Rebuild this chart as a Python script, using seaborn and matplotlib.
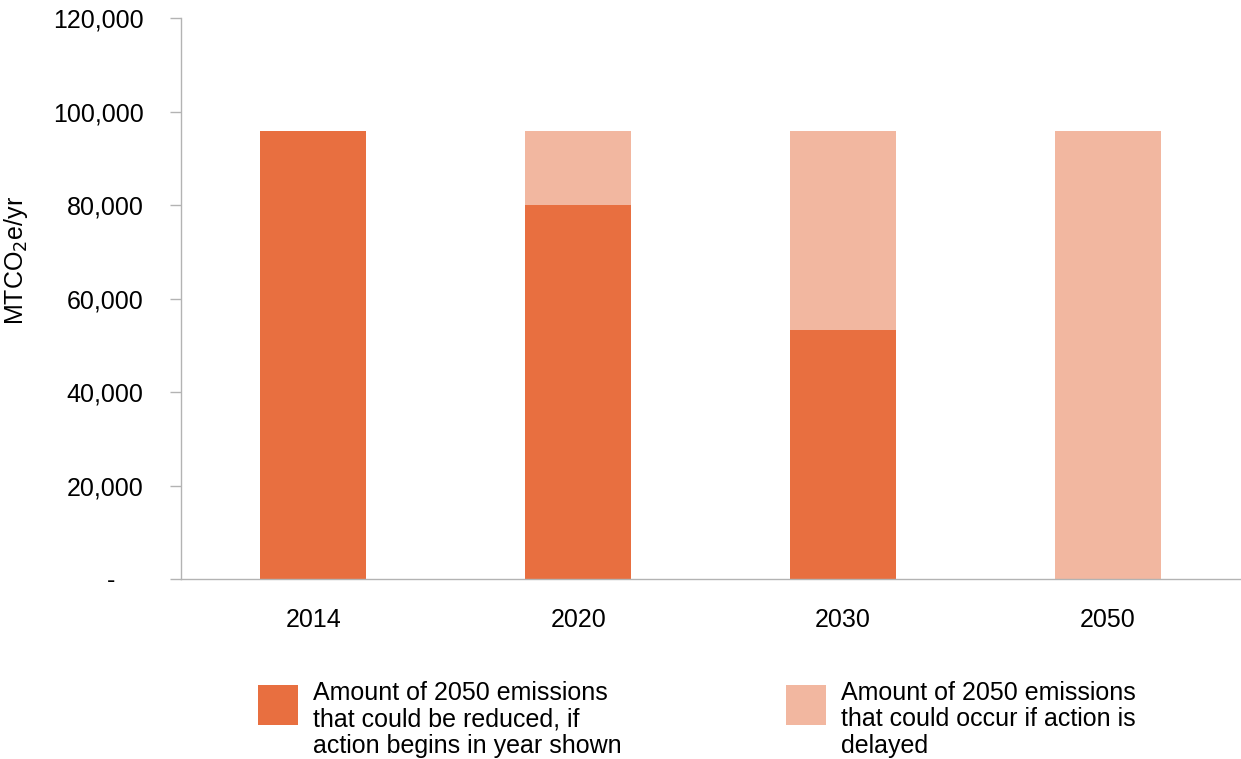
import pandas as pd
import matplotlib.pyplot as plt
import seaborn as sns
from matplotlib.patches import Rectangle
from matplotlib.ticker import FuncFormatter, FixedLocator

# === Data
years = ["2014", "2020", "2030", "2050"]
reduced = [95800, 80000, 53300, 0]          # could be reduced if action begins in year shown
delayed = [0, 15800, 42500, 95800]          # could occur if action is delayed

labels = [
    "Amount of 2050 emissions\nthat could be reduced, if\naction begins in year shown",
    "Amount of 2050 emissions\nthat could occur if action is\ndelayed",
]
dark = "#E86F40"
light = "#F2B7A0"
axis_grey = "#b3b3b3"
fs = 18

df = pd.DataFrame({"year": years, "reduced": reduced, "delayed": delayed})
df["total"] = df["reduced"] + df["delayed"]

sns.set_style("white")
plt.rcParams["font.family"] = ["Liberation Sans", "DejaVu Sans"]
plt.rcParams["text.color"] = "black"
plt.rcParams["axes.labelcolor"] = "black"

W, H = 1241, 759
fig = plt.figure(figsize=(W / 100, H / 100), dpi=100)
ax = fig.add_axes([181 / W, 1 - 579 / H, 1059 / W, 561 / H])

# stacked bars: full height in light, reduced part drawn on top in dark
sns.barplot(data=df, x="year", y="total", color=light, width=0.4, saturation=1,
            linewidth=0, ax=ax)
sns.barplot(data=df, x="year", y="reduced", color=dark, width=0.4, saturation=1,
            linewidth=0, ax=ax)

ax.set_xlim(-0.5, 3.5)
ax.set_ylim(0, 120000)
ax.set_yticks(range(0, 120001, 20000))
# accounting-style zero: a dash padded away from the axis
ax.yaxis.set_major_formatter(FuncFormatter(lambda v, p: "-    " if v == 0 else f"{int(v):,}"))
ax.set_xlabel("")
ax.set_ylabel("MTCO$_2$e/yr", fontsize=fs, color="black")
ax.yaxis.set_label_coords(-0.1426, 0.567)

for side in ["top", "right"]:
    ax.spines[side].set_visible(False)
for side in ["left", "bottom"]:
    ax.spines[side].set_color(axis_grey)
    ax.spines[side].set_linewidth(1)

# category separators as minor ticks below the x axis
ax.xaxis.set_minor_locator(FixedLocator([-0.5, 0.5, 1.5, 2.5, 3.5]))
ax.tick_params(axis="x", which="major", length=0, pad=21, labelsize=fs, labelcolor="black")
ax.tick_params(axis="x", which="minor", length=8, width=1, color=axis_grey, direction="out")
ax.tick_params(axis="y", which="major", length=8, width=1, color=axis_grey, direction="out",
               pad=19, labelsize=fs, left=True, labelcolor="black")

# legend: square key aligned with the first line of a three-line label
for x0, c, lab in zip([258, 786], [dark, light], labels):
    fig.patches.append(Rectangle((x0 / W, 1 - 725 / H), 40 / W, 40 / H,
                                 transform=fig.transFigure, facecolor=c,
                                 edgecolor="none"))
    fig.text((x0 + 55) / W, 1 - 681 / H, lab, fontsize=fs, va="top", ha="left",
             linespacing=1.12, color="black")

fig.savefig("out.png", dpi=100)
